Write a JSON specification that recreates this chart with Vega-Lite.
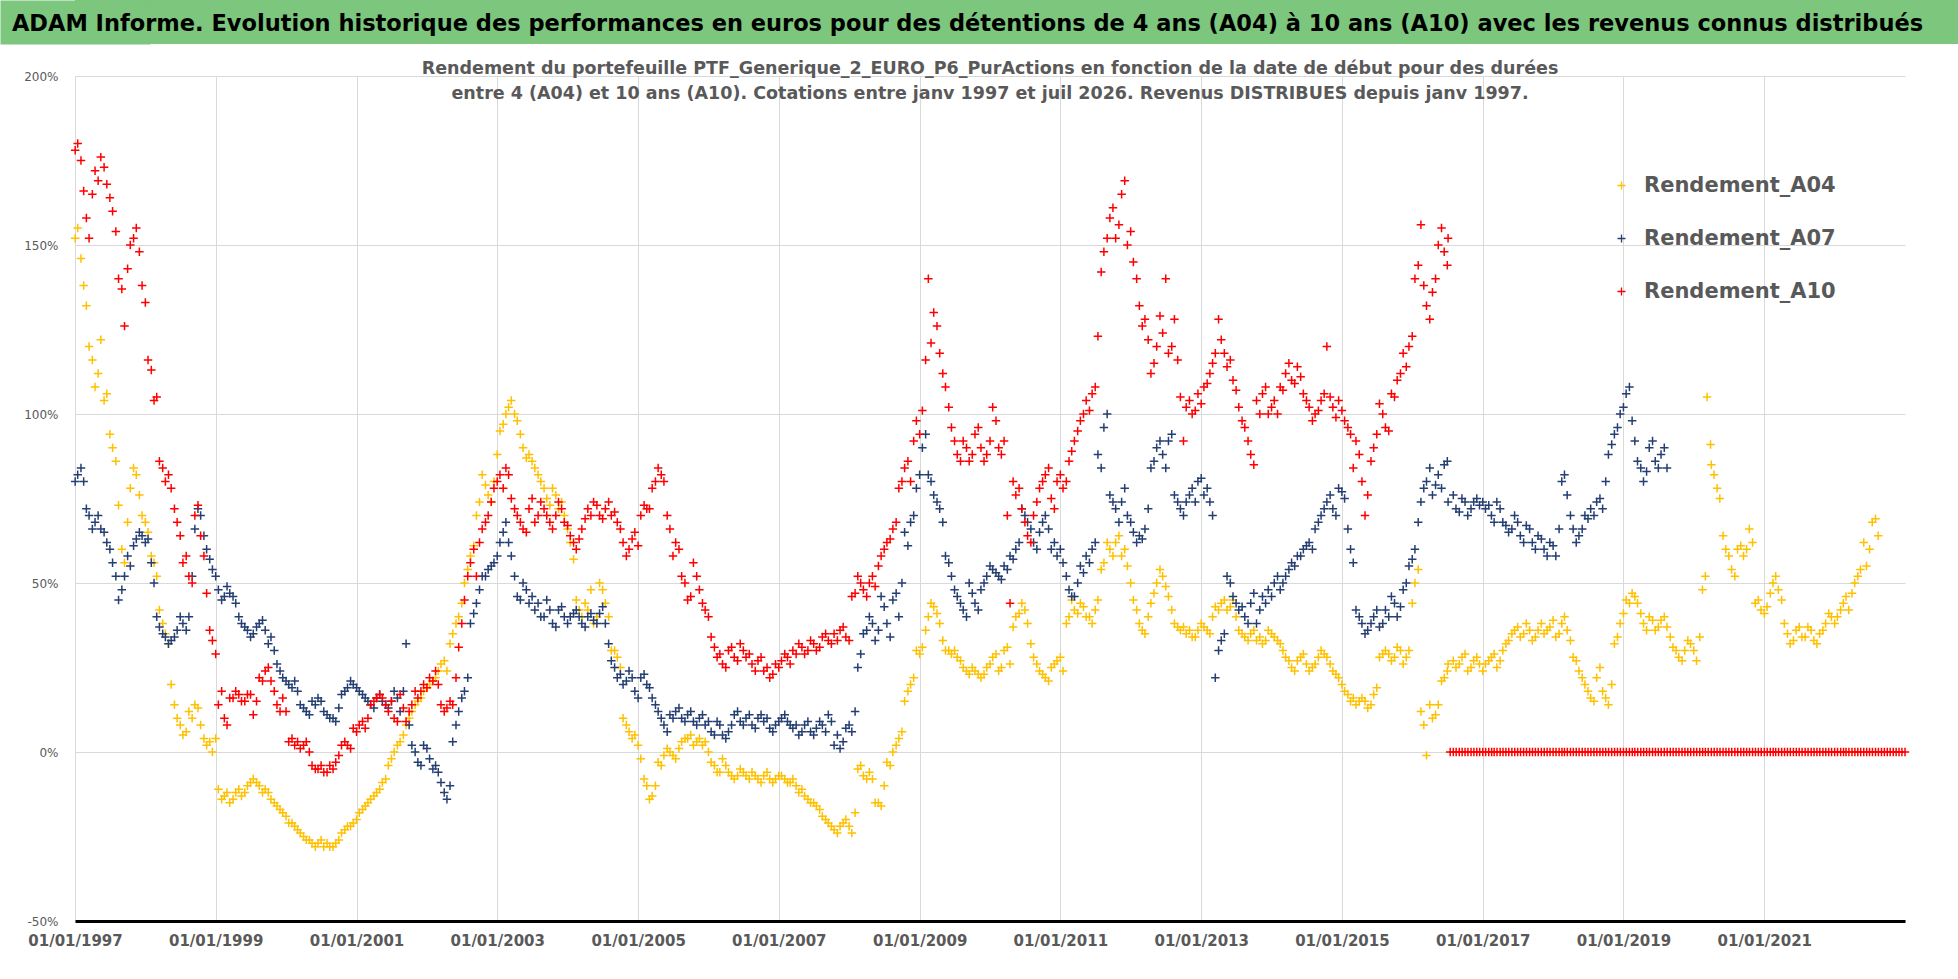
{
  "$schema": "https://vega.github.io/schema/vega-lite/v6.json",
  "padding": 0,
  "spacing": 15,
  "columns": 1,
  "background": "#ffffff",
  "config": {"font": "DejaVu Sans", "view": {"stroke": null}},
  "concat": [
    {
      "width": 1883,
      "height": 44,
      "view": {"fill": "#7dc67d", "stroke": null},
      "data": {"values": [{"t": "ADAM Informe. Evolution historique des performances en euros pour des détentions de 4 ans (A04) à 10 ans (A10) avec les revenus connus distribués"}]},
      "mark": {"type": "text", "font": "DejaVu Sans", "fontWeight": "bold", "fontSize": 22.5, "color": "#000000", "align": "center", "baseline": "middle", "dx": -49, "dy": 2},
      "encoding": {
        "text": {"field": "t"},
        "y": {
          "datum": 1,
          "type": "quantitative",
          "scale": {"domain": [0, 2]},
          "axis": {"title": null, "labels": false, "ticks": false, "grid": false, "domain": true, "domainWidth": 150, "domainColor": "#7dc67d", "domainCap": "butt", "zindex": 0}
        }
      }
    },
    {
      "width": 1830,
      "height": 845,
      "title": {
        "text": [
          "Rendement du portefeuille PTF_Generique_2_EURO_P6_PurActions  en fonction de la date de début pour des durées",
          "entre 4 (A04) et 10 ans (A10). Cotations entre janv 1997 et juil 2026. Revenus DISTRIBUES depuis janv 1997."
        ],
        "font": "DejaVu Sans",
        "fontWeight": "bold",
        "fontSize": 17.5,
        "color": "#595959",
        "lineHeight": 25,
        "anchor": "middle",
        "offset": -32
      },
      "data": {
        "values": [
          {"d":"1997-01-15","A04":155,"A07":82,"A10":180},
          {"d":"1997-02-15","A04":138,"A07":80,"A10":166},
          {"d":"1997-03-15","A04":120,"A07":70,"A10":152},
          {"d":"1997-04-15","A04":108,"A07":68,"A10":172},
          {"d":"1997-05-15","A04":122,"A07":66,"A10":176},
          {"d":"1997-06-15","A04":106,"A07":62,"A10":168},
          {"d":"1997-07-15","A04":90,"A07":56,"A10":160},
          {"d":"1997-08-15","A04":73,"A07":45,"A10":140},
          {"d":"1997-09-15","A04":56,"A07":52,"A10":126},
          {"d":"1997-10-15","A04":78,"A07":55,"A10":150},
          {"d":"1997-11-15","A04":82,"A07":63,"A10":155},
          {"d":"1997-12-15","A04":70,"A07":64,"A10":138},
          {"d":"1998-01-15","A04":65,"A07":63,"A10":116},
          {"d":"1998-02-15","A04":56,"A07":50,"A10":104},
          {"d":"1998-03-15","A04":42,"A07":37,"A10":86},
          {"d":"1998-04-15","A04":35,"A07":34,"A10":80},
          {"d":"1998-05-15","A04":20,"A07":33,"A10":78},
          {"d":"1998-06-15","A04":10,"A07":36,"A10":68},
          {"d":"1998-07-15","A04":5,"A07":38,"A10":56},
          {"d":"1998-08-15","A04":12,"A07":40,"A10":52},
          {"d":"1998-09-15","A04":14,"A07":66,"A10":70},
          {"d":"1998-10-15","A04":8,"A07":70,"A10":64},
          {"d":"1998-11-15","A04":2,"A07":60,"A10":47},
          {"d":"1998-12-15","A04":0,"A07":54,"A10":33},
          {"d":"1999-01-15","A04":-11,"A07":48,"A10":14},
          {"d":"1999-02-15","A04":-13,"A07":46,"A10":10},
          {"d":"1999-03-15","A04":-15,"A07":47,"A10":16},
          {"d":"1999-04-15","A04":-12,"A07":44,"A10":18},
          {"d":"1999-05-15","A04":-13,"A07":38,"A10":15},
          {"d":"1999-06-15","A04":-10,"A07":36,"A10":17},
          {"d":"1999-07-15","A04":-8,"A07":35,"A10":11},
          {"d":"1999-08-15","A04":-10,"A07":38,"A10":22},
          {"d":"1999-09-15","A04":-11,"A07":36,"A10":24},
          {"d":"1999-10-15","A04":-14,"A07":34,"A10":21},
          {"d":"1999-11-15","A04":-16,"A07":26,"A10":14},
          {"d":"1999-12-15","A04":-18,"A07":22,"A10":16},
          {"d":"2000-01-15","A04":-21,"A07":20,"A10":3},
          {"d":"2000-02-15","A04":-22,"A07":21,"A10":2},
          {"d":"2000-03-15","A04":-24,"A07":14,"A10":1},
          {"d":"2000-04-15","A04":-26,"A07":12,"A10":3},
          {"d":"2000-05-15","A04":-27,"A07":15,"A10":-4},
          {"d":"2000-06-15","A04":-27,"A07":16,"A10":-5},
          {"d":"2000-07-15","A04":-28,"A07":12,"A10":-6},
          {"d":"2000-08-15","A04":-28,"A07":10,"A10":-4},
          {"d":"2000-09-15","A04":-27,"A07":9,"A10":-3},
          {"d":"2000-10-15","A04":-24,"A07":17,"A10":2},
          {"d":"2000-11-15","A04":-22,"A07":19,"A10":2},
          {"d":"2000-12-15","A04":-21,"A07":20,"A10":7},
          {"d":"2001-01-15","A04":-18,"A07":18,"A10":8},
          {"d":"2001-02-15","A04":-16,"A07":16,"A10":7},
          {"d":"2001-03-15","A04":-14,"A07":14,"A10":14},
          {"d":"2001-04-15","A04":-12,"A07":16,"A10":16},
          {"d":"2001-05-15","A04":-9,"A07":15,"A10":16},
          {"d":"2001-06-15","A04":-4,"A07":13,"A10":12},
          {"d":"2001-07-15","A04":0,"A07":18,"A10":10},
          {"d":"2001-08-15","A04":3,"A07":12,"A10":17},
          {"d":"2001-09-15","A04":8,"A07":32,"A10":9},
          {"d":"2001-10-15","A04":12,"A07":2,"A10":14},
          {"d":"2001-11-15","A04":15,"A07":-3,"A10":16},
          {"d":"2001-12-15","A04":18,"A07":2,"A10":20},
          {"d":"2002-01-15","A04":20,"A07":-2,"A10":22},
          {"d":"2002-02-15","A04":22,"A07":-4,"A10":24},
          {"d":"2002-03-15","A04":26,"A07":-9,"A10":14},
          {"d":"2002-04-15","A04":24,"A07":-14,"A10":13},
          {"d":"2002-05-15","A04":35,"A07":3,"A10":14},
          {"d":"2002-06-15","A04":40,"A07":12,"A10":31},
          {"d":"2002-07-15","A04":50,"A07":18,"A10":45},
          {"d":"2002-08-15","A04":58,"A07":38,"A10":56},
          {"d":"2002-09-15","A04":70,"A07":44,"A10":52},
          {"d":"2002-10-15","A04":82,"A07":52,"A10":66},
          {"d":"2002-11-15","A04":76,"A07":54,"A10":70},
          {"d":"2002-12-15","A04":80,"A07":56,"A10":78},
          {"d":"2003-01-15","A04":95,"A07":62,"A10":82},
          {"d":"2003-02-15","A04":100,"A07":68,"A10":84},
          {"d":"2003-03-15","A04":104,"A07":58,"A10":75},
          {"d":"2003-04-15","A04":98,"A07":46,"A10":70},
          {"d":"2003-05-15","A04":90,"A07":50,"A10":66},
          {"d":"2003-06-15","A04":88,"A07":44,"A10":72},
          {"d":"2003-07-15","A04":84,"A07":42,"A10":68},
          {"d":"2003-08-15","A04":80,"A07":40,"A10":74},
          {"d":"2003-09-15","A04":75,"A07":45,"A10":70},
          {"d":"2003-10-15","A04":78,"A07":38,"A10":66},
          {"d":"2003-11-15","A04":72,"A07":42,"A10":74},
          {"d":"2003-12-15","A04":70,"A07":40,"A10":68},
          {"d":"2004-01-15","A04":62,"A07":40,"A10":64},
          {"d":"2004-02-15","A04":45,"A07":42,"A10":60},
          {"d":"2004-03-15","A04":40,"A07":38,"A10":66},
          {"d":"2004-04-15","A04":42,"A07":40,"A10":72},
          {"d":"2004-05-15","A04":38,"A07":39,"A10":74},
          {"d":"2004-06-15","A04":50,"A07":41,"A10":70},
          {"d":"2004-07-15","A04":44,"A07":38,"A10":72},
          {"d":"2004-08-15","A04":30,"A07":27,"A10":70},
          {"d":"2004-09-15","A04":28,"A07":22,"A10":68},
          {"d":"2004-10-15","A04":10,"A07":20,"A10":62},
          {"d":"2004-11-15","A04":6,"A07":24,"A10":60},
          {"d":"2004-12-15","A04":5,"A07":18,"A10":65},
          {"d":"2005-01-15","A04":-2,"A07":22,"A10":70},
          {"d":"2005-02-15","A04":-10,"A07":20,"A10":72},
          {"d":"2005-03-15","A04":-13,"A07":16,"A10":78},
          {"d":"2005-04-15","A04":-3,"A07":12,"A10":84},
          {"d":"2005-05-15","A04":-1,"A07":8,"A10":80},
          {"d":"2005-06-15","A04":0,"A07":11,"A10":66},
          {"d":"2005-07-15","A04":-2,"A07":12,"A10":62},
          {"d":"2005-08-15","A04":3,"A07":10,"A10":52},
          {"d":"2005-09-15","A04":4,"A07":11,"A10":45},
          {"d":"2005-10-15","A04":2,"A07":9,"A10":56},
          {"d":"2005-11-15","A04":4,"A07":10,"A10":48},
          {"d":"2005-12-15","A04":3,"A07":8,"A10":42},
          {"d":"2006-01-15","A04":-3,"A07":6,"A10":34},
          {"d":"2006-02-15","A04":-6,"A07":9,"A10":28},
          {"d":"2006-03-15","A04":-2,"A07":5,"A10":26},
          {"d":"2006-04-15","A04":-6,"A07":6,"A10":30},
          {"d":"2006-05-15","A04":-8,"A07":11,"A10":28},
          {"d":"2006-06-15","A04":-5,"A07":9,"A10":32},
          {"d":"2006-07-15","A04":-7,"A07":10,"A10":28},
          {"d":"2006-08-15","A04":-6,"A07":8,"A10":26},
          {"d":"2006-09-15","A04":-8,"A07":10,"A10":27},
          {"d":"2006-10-15","A04":-7,"A07":9,"A10":24},
          {"d":"2006-11-15","A04":-8,"A07":7,"A10":22},
          {"d":"2006-12-15","A04":-8,"A07":8,"A10":26},
          {"d":"2007-01-15","A04":-7,"A07":10,"A10":27},
          {"d":"2007-02-15","A04":-9,"A07":9,"A10":28},
          {"d":"2007-03-15","A04":-8,"A07":7,"A10":30},
          {"d":"2007-04-15","A04":-12,"A07":5,"A10":32},
          {"d":"2007-05-15","A04":-13,"A07":8,"A10":29},
          {"d":"2007-06-15","A04":-15,"A07":6,"A10":33},
          {"d":"2007-07-15","A04":-16,"A07":7,"A10":30},
          {"d":"2007-08-15","A04":-19,"A07":8,"A10":34},
          {"d":"2007-09-15","A04":-21,"A07":11,"A10":33},
          {"d":"2007-10-15","A04":-23,"A07":2,"A10":35},
          {"d":"2007-11-15","A04":-22,"A07":1,"A10":36},
          {"d":"2007-12-15","A04":-20,"A07":7,"A10":34},
          {"d":"2008-01-15","A04":-24,"A07":6,"A10":46},
          {"d":"2008-02-15","A04":-5,"A07":25,"A10":52},
          {"d":"2008-03-15","A04":-7,"A07":35,"A10":48},
          {"d":"2008-04-15","A04":-6,"A07":40,"A10":50},
          {"d":"2008-05-15","A04":-15,"A07":33,"A10":49},
          {"d":"2008-06-15","A04":-16,"A07":46,"A10":58},
          {"d":"2008-07-15","A04":-3,"A07":38,"A10":62},
          {"d":"2008-08-15","A04":0,"A07":45,"A10":66},
          {"d":"2008-09-15","A04":4,"A07":40,"A10":78},
          {"d":"2008-10-15","A04":15,"A07":65,"A10":84},
          {"d":"2008-11-15","A04":20,"A07":68,"A10":80},
          {"d":"2008-12-15","A04":30,"A07":78,"A10":98},
          {"d":"2009-01-15","A04":31,"A07":90,"A10":101},
          {"d":"2009-02-15","A04":40,"A07":82,"A10":140},
          {"d":"2009-03-15","A04":43,"A07":76,"A10":130},
          {"d":"2009-04-15","A04":38,"A07":72,"A10":118},
          {"d":"2009-05-15","A04":30,"A07":58,"A10":108},
          {"d":"2009-06-15","A04":29,"A07":52,"A10":96},
          {"d":"2009-07-15","A04":28,"A07":46,"A10":88},
          {"d":"2009-08-15","A04":25,"A07":42,"A10":92},
          {"d":"2009-09-15","A04":23,"A07":50,"A10":86},
          {"d":"2009-10-15","A04":24,"A07":44,"A10":94},
          {"d":"2009-11-15","A04":22,"A07":48,"A10":90},
          {"d":"2009-12-15","A04":25,"A07":52,"A10":88},
          {"d":"2010-01-15","A04":28,"A07":54,"A10":102},
          {"d":"2010-02-15","A04":24,"A07":52,"A10":90},
          {"d":"2010-03-15","A04":30,"A07":55,"A10":92},
          {"d":"2010-04-15","A04":26,"A07":58,"A10":44},
          {"d":"2010-05-15","A04":40,"A07":60,"A10":76},
          {"d":"2010-06-15","A04":44,"A07":72,"A10":72},
          {"d":"2010-07-15","A04":38,"A07":68,"A10":64},
          {"d":"2010-08-15","A04":28,"A07":62,"A10":70},
          {"d":"2010-09-15","A04":24,"A07":65,"A10":78},
          {"d":"2010-10-15","A04":22,"A07":70,"A10":82},
          {"d":"2010-11-15","A04":25,"A07":60,"A10":75},
          {"d":"2010-12-15","A04":27,"A07":58,"A10":80},
          {"d":"2011-01-15","A04":24,"A07":56,"A10":78},
          {"d":"2011-02-15","A04":40,"A07":48,"A10":86},
          {"d":"2011-03-15","A04":42,"A07":46,"A10":92},
          {"d":"2011-04-15","A04":44,"A07":55,"A10":98},
          {"d":"2011-05-15","A04":40,"A07":58,"A10":104},
          {"d":"2011-06-15","A04":38,"A07":60,"A10":106},
          {"d":"2011-07-15","A04":45,"A07":88,"A10":123},
          {"d":"2011-08-15","A04":56,"A07":96,"A10":148},
          {"d":"2011-09-15","A04":60,"A07":76,"A10":158},
          {"d":"2011-10-15","A04":62,"A07":72,"A10":152},
          {"d":"2011-11-15","A04":58,"A07":74,"A10":165},
          {"d":"2011-12-15","A04":55,"A07":70,"A10":150},
          {"d":"2012-01-15","A04":45,"A07":65,"A10":145},
          {"d":"2012-02-15","A04":38,"A07":64,"A10":132},
          {"d":"2012-03-15","A04":35,"A07":66,"A10":128},
          {"d":"2012-04-15","A04":44,"A07":84,"A10":112},
          {"d":"2012-05-15","A04":50,"A07":90,"A10":120},
          {"d":"2012-06-15","A04":52,"A07":88,"A10":124},
          {"d":"2012-07-15","A04":46,"A07":92,"A10":118},
          {"d":"2012-08-15","A04":38,"A07":76,"A10":128},
          {"d":"2012-09-15","A04":36,"A07":72,"A10":105},
          {"d":"2012-10-15","A04":35,"A07":74,"A10":102},
          {"d":"2012-11-15","A04":34,"A07":78,"A10":100},
          {"d":"2012-12-15","A04":36,"A07":80,"A10":106},
          {"d":"2013-01-15","A04":37,"A07":76,"A10":108},
          {"d":"2013-02-15","A04":35,"A07":74,"A10":112},
          {"d":"2013-03-15","A04":43,"A07":22,"A10":118},
          {"d":"2013-04-15","A04":44,"A07":33,"A10":122},
          {"d":"2013-05-15","A04":42,"A07":52,"A10":114},
          {"d":"2013-06-15","A04":45,"A07":46,"A10":110},
          {"d":"2013-07-15","A04":36,"A07":42,"A10":102},
          {"d":"2013-08-15","A04":34,"A07":40,"A10":96},
          {"d":"2013-09-15","A04":35,"A07":44,"A10":88},
          {"d":"2013-10-15","A04":33,"A07":38,"A10":104},
          {"d":"2013-11-15","A04":32,"A07":46,"A10":106},
          {"d":"2013-12-15","A04":36,"A07":48,"A10":100},
          {"d":"2014-01-15","A04":34,"A07":50,"A10":104},
          {"d":"2014-02-15","A04":32,"A07":48,"A10":108},
          {"d":"2014-03-15","A04":28,"A07":52,"A10":112},
          {"d":"2014-04-15","A04":25,"A07":56,"A10":110},
          {"d":"2014-05-15","A04":27,"A07":58,"A10":114},
          {"d":"2014-06-15","A04":29,"A07":60,"A10":106},
          {"d":"2014-07-15","A04":24,"A07":62,"A10":102},
          {"d":"2014-08-15","A04":26,"A07":66,"A10":100},
          {"d":"2014-09-15","A04":30,"A07":70,"A10":104},
          {"d":"2014-10-15","A04":28,"A07":74,"A10":120},
          {"d":"2014-11-15","A04":24,"A07":72,"A10":102},
          {"d":"2014-12-15","A04":22,"A07":78,"A10":104},
          {"d":"2015-01-15","A04":18,"A07":75,"A10":98},
          {"d":"2015-02-15","A04":15,"A07":60,"A10":94},
          {"d":"2015-03-15","A04":14,"A07":42,"A10":92},
          {"d":"2015-04-15","A04":16,"A07":38,"A10":80},
          {"d":"2015-05-15","A04":13,"A07":36,"A10":76},
          {"d":"2015-06-15","A04":17,"A07":40,"A10":90},
          {"d":"2015-07-15","A04":28,"A07":37,"A10":103},
          {"d":"2015-08-15","A04":30,"A07":42,"A10":96},
          {"d":"2015-09-15","A04":27,"A07":46,"A10":106},
          {"d":"2015-10-15","A04":31,"A07":40,"A10":110},
          {"d":"2015-11-15","A04":26,"A07":48,"A10":118},
          {"d":"2015-12-15","A04":30,"A07":55,"A10":120},
          {"d":"2016-01-15","A04":50,"A07":60,"A10":140},
          {"d":"2016-02-15","A04":12,"A07":74,"A10":156},
          {"d":"2016-03-15","A04":-1,"A07":80,"A10":132},
          {"d":"2016-04-15","A04":10,"A07":76,"A10":136},
          {"d":"2016-05-15","A04":14,"A07":82,"A10":150},
          {"d":"2016-06-15","A04":22,"A07":85,"A10":148},
          {"d":"2016-07-05","A04":26,"A07":74,"A10":152},
          {"d":"2016-08-15","A04":25,"A07":72},
          {"d":"2016-09-15","A04":28,"A07":75},
          {"d":"2016-10-15","A04":24,"A07":70},
          {"d":"2016-11-15","A04":27,"A07":74},
          {"d":"2016-12-15","A04":26,"A07":73},
          {"d":"2017-01-15","A04":26,"A07":72},
          {"d":"2017-02-15","A04":28,"A07":70},
          {"d":"2017-03-15","A04":25,"A07":74},
          {"d":"2017-04-15","A04":30,"A07":68},
          {"d":"2017-05-15","A04":33,"A07":65},
          {"d":"2017-06-15","A04":36,"A07":70},
          {"d":"2017-07-15","A04":34,"A07":64},
          {"d":"2017-08-15","A04":38,"A07":67},
          {"d":"2017-09-15","A04":33,"A07":62},
          {"d":"2017-10-15","A04":36,"A07":64},
          {"d":"2017-11-15","A04":35,"A07":60},
          {"d":"2017-12-15","A04":37,"A07":62},
          {"d":"2018-01-15","A04":34,"A07":58},
          {"d":"2018-02-15","A04":38,"A07":80},
          {"d":"2018-03-15","A04":36,"A07":76},
          {"d":"2018-04-15","A04":28,"A07":66},
          {"d":"2018-05-15","A04":24,"A07":64},
          {"d":"2018-06-15","A04":20,"A07":70},
          {"d":"2018-07-15","A04":16,"A07":72},
          {"d":"2018-08-15","A04":22,"A07":74},
          {"d":"2018-09-15","A04":18,"A07":72},
          {"d":"2018-10-15","A04":14,"A07":88},
          {"d":"2018-11-15","A04":32,"A07":94},
          {"d":"2018-12-15","A04":38,"A07":100},
          {"d":"2019-01-15","A04":45,"A07":106},
          {"d":"2019-02-15","A04":47,"A07":98},
          {"d":"2019-03-15","A04":44,"A07":86},
          {"d":"2019-04-15","A04":38,"A07":80},
          {"d":"2019-05-15","A04":40,"A07":90},
          {"d":"2019-06-15","A04":36,"A07":86},
          {"d":"2019-07-15","A04":39,"A07":88},
          {"d":"2019-08-15","A04":37,"A07":84},
          {"d":"2019-09-15","A04":31},
          {"d":"2019-10-15","A04":28},
          {"d":"2019-11-15","A04":30},
          {"d":"2019-12-15","A04":32},
          {"d":"2020-01-15","A04":27},
          {"d":"2020-02-15","A04":48},
          {"d":"2020-03-10","A04":105},
          {"d":"2020-03-28","A04":91},
          {"d":"2020-04-15","A04":82},
          {"d":"2020-05-15","A04":75},
          {"d":"2020-06-15","A04":60},
          {"d":"2020-07-15","A04":54},
          {"d":"2020-08-15","A04":60},
          {"d":"2020-09-15","A04":58},
          {"d":"2020-10-15","A04":66},
          {"d":"2020-11-15","A04":44},
          {"d":"2020-12-15","A04":42},
          {"d":"2021-01-15","A04":43},
          {"d":"2021-02-15","A04":50},
          {"d":"2021-03-15","A04":48},
          {"d":"2021-04-15","A04":38},
          {"d":"2021-05-15","A04":32},
          {"d":"2021-06-15","A04":36},
          {"d":"2021-07-15","A04":34},
          {"d":"2021-08-15","A04":37},
          {"d":"2021-09-15","A04":33},
          {"d":"2021-10-15","A04":35},
          {"d":"2021-11-15","A04":38},
          {"d":"2021-12-15","A04":40},
          {"d":"2022-01-15","A04":40},
          {"d":"2022-02-15","A04":44},
          {"d":"2022-03-15","A04":42},
          {"d":"2022-04-15","A04":50},
          {"d":"2022-05-15","A04":54},
          {"d":"2022-06-15","A04":55},
          {"d":"2022-07-15","A04":68},
          {"d":"2022-08-15","A04":64},
          {"d":"1997-01-02","A04":152,"A07":80,"A10":178},
          {"d":"1997-02-01","A04":146,"A07":84,"A10":175},
          {"d":"1997-03-01","A04":132,"A07":72,"A10":158},
          {"d":"1997-04-01","A04":116,"A07":66,"A10":165},
          {"d":"1997-05-01","A04":112,"A07":70,"A10":169},
          {"d":"1997-06-01","A04":104,"A07":65,"A10":173},
          {"d":"1997-07-01","A04":94,"A07":60,"A10":164},
          {"d":"1997-08-01","A04":86,"A07":52,"A10":154},
          {"d":"1997-09-01","A04":60,"A07":48,"A10":137},
          {"d":"1997-10-01","A04":68,"A07":58,"A10":143},
          {"d":"1997-11-01","A04":84,"A07":61,"A10":152},
          {"d":"1997-12-01","A04":76,"A07":65,"A10":148},
          {"d":"1998-01-01","A04":68,"A07":62,"A10":133},
          {"d":"1998-02-01","A04":58,"A07":56,"A10":113},
          {"d":"1998-03-01","A04":52,"A07":40,"A10":105},
          {"d":"1998-04-01","A04":38,"A07":35,"A10":84},
          {"d":"1998-05-01","A04":32,"A07":32,"A10":82},
          {"d":"1998-06-01","A04":14,"A07":34,"A10":72},
          {"d":"1998-07-01","A04":8,"A07":40,"A10":64},
          {"d":"1998-08-01","A04":6,"A07":36,"A10":58},
          {"d":"1998-09-01","A04":10,"A07":52,"A10":50},
          {"d":"1998-10-01","A04":13,"A07":72,"A10":73},
          {"d":"1998-11-01","A04":4,"A07":64,"A10":58},
          {"d":"1998-12-01","A04":3,"A07":57,"A10":36},
          {"d":"1999-01-01","A04":4,"A07":52,"A10":29},
          {"d":"1999-02-01","A04":-14,"A07":45,"A10":18},
          {"d":"1999-03-01","A04":-12,"A07":49,"A10":8},
          {"d":"1999-04-01","A04":-14,"A07":46,"A10":16},
          {"d":"1999-05-01","A04":-11,"A07":40,"A10":17},
          {"d":"1999-06-01","A04":-12,"A07":37,"A10":15},
          {"d":"1999-07-01","A04":-9,"A07":34,"A10":17},
          {"d":"1999-08-01","A04":-9,"A07":37,"A10":15},
          {"d":"1999-09-01","A04":-12,"A07":39,"A10":21},
          {"d":"1999-10-01","A04":-12,"A07":32,"A10":25},
          {"d":"1999-11-01","A04":-15,"A07":30,"A10":18},
          {"d":"1999-12-01","A04":-17,"A07":24,"A10":12},
          {"d":"2000-01-01","A04":-19,"A07":21,"A10":12},
          {"d":"2000-02-01","A04":-21,"A07":19,"A10":4},
          {"d":"2000-03-01","A04":-23,"A07":18,"A10":3},
          {"d":"2000-04-01","A04":-25,"A07":13,"A10":2},
          {"d":"2000-05-01","A04":-26,"A07":11,"A10":0},
          {"d":"2000-06-01","A04":-28,"A07":14,"A10":-5},
          {"d":"2000-07-01","A04":-26,"A07":15,"A10":-4},
          {"d":"2000-08-01","A04":-27,"A07":11,"A10":-6},
          {"d":"2000-09-01","A04":-28,"A07":10,"A10":-5},
          {"d":"2000-10-01","A04":-26,"A07":13,"A10":-1},
          {"d":"2000-11-01","A04":-23,"A07":18,"A10":3},
          {"d":"2000-12-01","A04":-22,"A07":21,"A10":1},
          {"d":"2001-01-01","A04":-20,"A07":19,"A10":6},
          {"d":"2001-02-01","A04":-17,"A07":17,"A10":9},
          {"d":"2001-03-01","A04":-15,"A07":15,"A10":10},
          {"d":"2001-04-01","A04":-13,"A07":13,"A10":15},
          {"d":"2001-05-01","A04":-11,"A07":17,"A10":17},
          {"d":"2001-06-01","A04":-8,"A07":14,"A10":14},
          {"d":"2001-07-01","A04":-2,"A07":15,"A10":15},
          {"d":"2001-08-01","A04":2,"A07":16,"A10":9},
          {"d":"2001-09-01","A04":5,"A07":18,"A10":13},
          {"d":"2001-10-01","A04":10,"A07":8,"A10":12},
          {"d":"2001-11-01","A04":14,"A07":0,"A10":18},
          {"d":"2001-12-01","A04":16,"A07":-4,"A10":18},
          {"d":"2002-01-01","A04":19,"A07":1,"A10":19},
          {"d":"2002-02-01","A04":21,"A07":-5,"A10":21},
          {"d":"2002-03-01","A04":24,"A07":-6,"A10":20},
          {"d":"2002-04-01","A04":27,"A07":-12,"A10":12},
          {"d":"2002-05-01","A04":32,"A07":-10,"A10":15},
          {"d":"2002-06-01","A04":38,"A07":8,"A10":22},
          {"d":"2002-07-01","A04":44,"A07":16,"A10":38},
          {"d":"2002-08-01","A04":54,"A07":22,"A10":52},
          {"d":"2002-09-01","A04":61,"A07":41,"A10":60},
          {"d":"2002-10-01","A04":74,"A07":48,"A10":62},
          {"d":"2002-11-01","A04":79,"A07":52,"A10":68},
          {"d":"2002-12-01","A04":74,"A07":55,"A10":74},
          {"d":"2003-01-01","A04":88,"A07":58,"A10":80},
          {"d":"2003-02-01","A04":97,"A07":65,"A10":78},
          {"d":"2003-03-01","A04":102,"A07":62,"A10":82},
          {"d":"2003-04-01","A04":100,"A07":52,"A10":72},
          {"d":"2003-05-01","A04":94,"A07":45,"A10":68},
          {"d":"2003-06-01","A04":87,"A07":48,"A10":65},
          {"d":"2003-07-01","A04":86,"A07":46,"A10":75},
          {"d":"2003-08-01","A04":82,"A07":44,"A10":70},
          {"d":"2003-09-01","A04":78,"A07":40,"A10":72},
          {"d":"2003-10-01","A04":73,"A07":42,"A10":68},
          {"d":"2003-11-01","A04":76,"A07":37,"A10":70},
          {"d":"2003-12-01","A04":74,"A07":43,"A10":72},
          {"d":"2004-01-01","A04":66,"A07":38,"A10":67},
          {"d":"2004-02-01","A04":57,"A07":41,"A10":62},
          {"d":"2004-03-01","A04":42,"A07":40,"A10":63},
          {"d":"2004-04-01","A04":44,"A07":37,"A10":69},
          {"d":"2004-05-01","A04":48,"A07":41,"A10":70},
          {"d":"2004-06-01","A04":40,"A07":38,"A10":73},
          {"d":"2004-07-01","A04":48,"A07":43,"A10":69},
          {"d":"2004-08-01","A04":40,"A07":32,"A10":74},
          {"d":"2004-09-01","A04":30,"A07":25,"A10":71},
          {"d":"2004-10-01","A04":25,"A07":23,"A10":66},
          {"d":"2004-11-01","A04":8,"A07":21,"A10":58},
          {"d":"2004-12-01","A04":4,"A07":22,"A10":63},
          {"d":"2005-01-01","A04":2,"A07":16,"A10":61},
          {"d":"2005-02-01","A04":-8,"A07":23,"A10":73},
          {"d":"2005-03-01","A04":-14,"A07":19,"A10":72},
          {"d":"2005-04-01","A04":-10,"A07":14,"A10":80},
          {"d":"2005-05-01","A04":-4,"A07":10,"A10":82},
          {"d":"2005-06-01","A04":1,"A07":6,"A10":70},
          {"d":"2005-07-01","A04":-1,"A07":10,"A10":58},
          {"d":"2005-08-01","A04":1,"A07":13,"A10":60},
          {"d":"2005-09-01","A04":4,"A07":9,"A10":50},
          {"d":"2005-10-01","A04":5,"A07":12,"A10":46},
          {"d":"2005-11-01","A04":3,"A07":8,"A10":52},
          {"d":"2005-12-01","A04":2,"A07":11,"A10":44},
          {"d":"2006-01-01","A04":0,"A07":9,"A10":40},
          {"d":"2006-02-01","A04":-4,"A07":5,"A10":31},
          {"d":"2006-03-01","A04":-6,"A07":8,"A10":29},
          {"d":"2006-04-01","A04":-4,"A07":4,"A10":25},
          {"d":"2006-05-01","A04":-7,"A07":8,"A10":31},
          {"d":"2006-06-01","A04":-7,"A07":12,"A10":27},
          {"d":"2006-07-01","A04":-6,"A07":8,"A10":30},
          {"d":"2006-08-01","A04":-8,"A07":11,"A10":29},
          {"d":"2006-09-01","A04":-7,"A07":7,"A10":24},
          {"d":"2006-10-01","A04":-9,"A07":11,"A10":28},
          {"d":"2006-11-01","A04":-6,"A07":10,"A10":25},
          {"d":"2006-12-01","A04":-9,"A07":6,"A10":23},
          {"d":"2007-01-01","A04":-7,"A07":9,"A10":25},
          {"d":"2007-02-01","A04":-8,"A07":11,"A10":29},
          {"d":"2007-03-01","A04":-9,"A07":8,"A10":26},
          {"d":"2007-04-01","A04":-10,"A07":8,"A10":29},
          {"d":"2007-05-01","A04":-11,"A07":6,"A10":31},
          {"d":"2007-06-01","A04":-14,"A07":9,"A10":30},
          {"d":"2007-07-01","A04":-15,"A07":5,"A10":32},
          {"d":"2007-08-01","A04":-17,"A07":9,"A10":31},
          {"d":"2007-09-01","A04":-20,"A07":6,"A10":35},
          {"d":"2007-10-01","A04":-22,"A07":9,"A10":32},
          {"d":"2007-11-01","A04":-24,"A07":5,"A10":33},
          {"d":"2007-12-01","A04":-21,"A07":3,"A10":37},
          {"d":"2008-01-01","A04":-22,"A07":8,"A10":33},
          {"d":"2008-02-01","A04":-18,"A07":12,"A10":47},
          {"d":"2008-03-01","A04":-4,"A07":29,"A10":50},
          {"d":"2008-04-01","A04":-8,"A07":36,"A10":46},
          {"d":"2008-05-01","A04":-8,"A07":38,"A10":52},
          {"d":"2008-06-01","A04":-15,"A07":36,"A10":55},
          {"d":"2008-07-01","A04":-10,"A07":43,"A10":60},
          {"d":"2008-08-01","A04":-4,"A07":34,"A10":63},
          {"d":"2008-09-01","A04":2,"A07":47,"A10":68},
          {"d":"2008-10-01","A04":6,"A07":50,"A10":80},
          {"d":"2008-11-01","A04":18,"A07":61,"A10":86},
          {"d":"2008-12-01","A04":22,"A07":70,"A10":92},
          {"d":"2009-01-01","A04":29,"A07":82,"A10":94},
          {"d":"2009-02-01","A04":36,"A07":94,"A10":116},
          {"d":"2009-03-01","A04":44,"A07":80,"A10":121},
          {"d":"2009-04-01","A04":41,"A07":74,"A10":126},
          {"d":"2009-05-01","A04":33,"A07":68,"A10":112},
          {"d":"2009-06-01","A04":30,"A07":56,"A10":102},
          {"d":"2009-07-01","A04":30,"A07":48,"A10":92},
          {"d":"2009-08-01","A04":27,"A07":44,"A10":86},
          {"d":"2009-09-01","A04":24,"A07":40,"A10":90},
          {"d":"2009-10-01","A04":25,"A07":47,"A10":88},
          {"d":"2009-11-01","A04":23,"A07":42,"A10":96},
          {"d":"2009-12-01","A04":23,"A07":50,"A10":86},
          {"d":"2010-01-01","A04":26,"A07":55,"A10":92},
          {"d":"2010-02-01","A04":29,"A07":53,"A10":98},
          {"d":"2010-03-01","A04":25,"A07":51,"A10":88},
          {"d":"2010-04-01","A04":31,"A07":54,"A10":70},
          {"d":"2010-05-01","A04":37,"A07":57,"A10":80},
          {"d":"2010-06-01","A04":41,"A07":62,"A10":78},
          {"d":"2010-07-01","A04":42,"A07":70,"A10":68},
          {"d":"2010-08-01","A04":32,"A07":66,"A10":62},
          {"d":"2010-09-01","A04":26,"A07":60,"A10":74},
          {"d":"2010-10-01","A04":23,"A07":68,"A10":80},
          {"d":"2010-11-01","A04":21,"A07":66,"A10":84},
          {"d":"2010-12-01","A04":26,"A07":62,"A10":72},
          {"d":"2011-01-01","A04":28,"A07":60,"A10":82},
          {"d":"2011-02-01","A04":38,"A07":52,"A10":80},
          {"d":"2011-03-01","A04":45,"A07":46,"A10":89},
          {"d":"2011-04-01","A04":41,"A07":50,"A10":95},
          {"d":"2011-05-01","A04":43,"A07":53,"A10":100},
          {"d":"2011-06-01","A04":40,"A07":56,"A10":101},
          {"d":"2011-07-01","A04":42,"A07":62,"A10":108},
          {"d":"2011-08-01","A04":54,"A07":84,"A10":142},
          {"d":"2011-09-01","A04":62,"A07":100,"A10":152},
          {"d":"2011-10-01","A04":58,"A07":74,"A10":161},
          {"d":"2011-11-01","A04":64,"A07":68,"A10":156},
          {"d":"2011-12-01","A04":60,"A07":78,"A10":169},
          {"d":"2012-01-01","A04":50,"A07":68,"A10":154},
          {"d":"2012-02-01","A04":42,"A07":62,"A10":140},
          {"d":"2012-03-01","A04":36,"A07":63,"A10":126},
          {"d":"2012-04-01","A04":40,"A07":72,"A10":122},
          {"d":"2012-05-01","A04":47,"A07":86,"A10":115},
          {"d":"2012-06-01","A04":54,"A07":92,"A10":129},
          {"d":"2012-07-01","A04":49,"A07":84,"A10":140},
          {"d":"2012-08-01","A04":42,"A07":94,"A10":120},
          {"d":"2012-09-01","A04":37,"A07":74,"A10":116},
          {"d":"2012-10-01","A04":37,"A07":70,"A10":92},
          {"d":"2012-11-01","A04":36,"A07":76,"A10":104},
          {"d":"2012-12-01","A04":34,"A07":74,"A10":101},
          {"d":"2013-01-01","A04":38,"A07":81,"A10":103},
          {"d":"2013-02-01","A04":36,"A07":78,"A10":109},
          {"d":"2013-03-01","A04":40,"A07":70,"A10":115},
          {"d":"2013-04-01","A04":42,"A07":30,"A10":128},
          {"d":"2013-05-01","A04":45,"A07":35,"A10":118},
          {"d":"2013-06-01","A04":43,"A07":50,"A10":116},
          {"d":"2013-07-01","A04":40,"A07":44,"A10":107},
          {"d":"2013-08-01","A04":35,"A07":43,"A10":98},
          {"d":"2013-09-01","A04":33,"A07":38,"A10":92},
          {"d":"2013-10-01","A04":36,"A07":47,"A10":85},
          {"d":"2013-11-01","A04":34,"A07":42,"A10":100},
          {"d":"2013-12-01","A04":33,"A07":44,"A10":108},
          {"d":"2014-01-01","A04":35,"A07":46,"A10":102},
          {"d":"2014-02-01","A04":33,"A07":52,"A10":100},
          {"d":"2014-03-01","A04":30,"A07":50,"A10":107},
          {"d":"2014-04-01","A04":27,"A07":54,"A10":115},
          {"d":"2014-05-01","A04":24,"A07":55,"A10":109},
          {"d":"2014-06-01","A04":28,"A07":58,"A10":111},
          {"d":"2014-07-01","A04":26,"A07":61,"A10":104},
          {"d":"2014-08-01","A04":25,"A07":60,"A10":98},
          {"d":"2014-09-01","A04":28,"A07":68,"A10":101},
          {"d":"2014-10-01","A04":29,"A07":72,"A10":106},
          {"d":"2014-11-01","A04":26,"A07":76,"A10":105},
          {"d":"2014-12-01","A04":23,"A07":70,"A10":99},
          {"d":"2015-01-01","A04":20,"A07":77,"A10":101},
          {"d":"2015-02-01","A04":17,"A07":66,"A10":96},
          {"d":"2015-03-01","A04":16,"A07":56,"A10":84},
          {"d":"2015-04-01","A04":15,"A07":40,"A10":88},
          {"d":"2015-05-01","A04":15,"A07":35,"A10":70},
          {"d":"2015-06-01","A04":14,"A07":38,"A10":86},
          {"d":"2015-07-01","A04":19,"A07":42,"A10":94},
          {"d":"2015-08-01","A04":29,"A07":38,"A10":100},
          {"d":"2015-09-01","A04":29,"A07":40,"A10":95},
          {"d":"2015-10-01","A04":28,"A07":44,"A10":105},
          {"d":"2015-11-01","A04":30,"A07":43,"A10":112},
          {"d":"2015-12-01","A04":28,"A07":50,"A10":114},
          {"d":"2016-01-01","A04":44,"A07":57,"A10":123},
          {"d":"2016-02-01","A04":54,"A07":68,"A10":144},
          {"d":"2016-03-01","A04":8,"A07":78,"A10":138},
          {"d":"2016-04-01","A04":14,"A07":84,"A10":128},
          {"d":"2016-05-01","A04":11,"A07":79,"A10":140},
          {"d":"2016-06-01","A04":21,"A07":78,"A10":155},
          {"d":"2016-07-01","A04":24,"A07":86,"A10":144},
          {"d":"2016-08-01","A04":27,"A07":76,"A10":0},
          {"d":"2016-09-01","A04":26,"A07":71,"A10":0},
          {"d":"2016-10-01","A04":29,"A07":74,"A10":0},
          {"d":"2016-11-01","A04":25,"A07":72,"A10":0},
          {"d":"2016-12-01","A04":28,"A07":75,"A10":0},
          {"d":"2017-01-01","A04":24,"A07":74,"A10":0},
          {"d":"2017-02-01","A04":27,"A07":73,"A10":0},
          {"d":"2017-03-01","A04":29,"A07":68,"A10":0},
          {"d":"2017-04-01","A04":27,"A07":72,"A10":0},
          {"d":"2017-05-01","A04":32,"A07":67,"A10":0},
          {"d":"2017-06-01","A04":35,"A07":66,"A10":0},
          {"d":"2017-07-01","A04":37,"A07":68,"A10":0},
          {"d":"2017-08-01","A04":35,"A07":62,"A10":0},
          {"d":"2017-09-01","A04":36,"A07":66,"A10":0},
          {"d":"2017-10-01","A04":34,"A07":60,"A10":0},
          {"d":"2017-11-01","A04":38,"A07":63,"A10":0},
          {"d":"2017-12-01","A04":36,"A07":58,"A10":0},
          {"d":"2018-01-01","A04":39,"A07":61,"A10":0},
          {"d":"2018-02-01","A04":35,"A07":66,"A10":0},
          {"d":"2018-03-01","A04":40,"A07":82,"A10":0},
          {"d":"2018-04-01","A04":33,"A07":70,"A10":0},
          {"d":"2018-05-01","A04":27,"A07":62,"A10":0},
          {"d":"2018-06-01","A04":22,"A07":66,"A10":0},
          {"d":"2018-07-01","A04":18,"A07":69,"A10":0},
          {"d":"2018-08-01","A04":15,"A07":70,"A10":0},
          {"d":"2018-09-01","A04":25,"A07":75,"A10":0},
          {"d":"2018-10-01","A04":16,"A07":80,"A10":0},
          {"d":"2018-11-01","A04":20,"A07":91,"A10":0},
          {"d":"2018-12-01","A04":34,"A07":96,"A10":0},
          {"d":"2019-01-01","A04":41,"A07":102,"A10":0},
          {"d":"2019-02-01","A04":44,"A07":108,"A10":0},
          {"d":"2019-03-01","A04":46,"A07":92,"A10":0},
          {"d":"2019-04-01","A04":41,"A07":84,"A10":0},
          {"d":"2019-05-01","A04":36,"A07":83,"A10":0},
          {"d":"2019-06-01","A04":39,"A07":92,"A10":0},
          {"d":"2019-07-01","A04":37,"A07":84,"A10":0},
          {"d":"2019-08-01","A04":40,"A07":90,"A10":0},
          {"d":"2019-09-01","A04":34,"A10":0},
          {"d":"2019-10-01","A04":30,"A10":0},
          {"d":"2019-11-01","A04":27,"A10":0},
          {"d":"2019-12-01","A04":33,"A10":0},
          {"d":"2020-01-01","A04":30,"A10":0},
          {"d":"2020-02-01","A04":34,"A10":0},
          {"d":"2020-03-01","A04":52,"A10":0},
          {"d":"2020-04-01","A04":85,"A10":0},
          {"d":"2020-05-01","A04":78,"A10":0},
          {"d":"2020-06-01","A04":64,"A10":0},
          {"d":"2020-07-01","A04":58,"A10":0},
          {"d":"2020-08-01","A04":52,"A10":0},
          {"d":"2020-09-01","A04":61,"A10":0},
          {"d":"2020-10-01","A04":60,"A10":0},
          {"d":"2020-11-01","A04":62,"A10":0},
          {"d":"2020-12-01","A04":45,"A10":0},
          {"d":"2021-01-01","A04":41,"A10":0},
          {"d":"2021-02-01","A04":47,"A10":0},
          {"d":"2021-03-01","A04":52,"A10":0},
          {"d":"2021-04-01","A04":45,"A10":0},
          {"d":"2021-05-01","A04":35,"A10":0},
          {"d":"2021-06-01","A04":33,"A10":0},
          {"d":"2021-07-01","A04":37,"A10":0},
          {"d":"2021-08-01","A04":34,"A10":0},
          {"d":"2021-09-01","A04":36,"A10":0},
          {"d":"2021-10-01","A04":32,"A10":0},
          {"d":"2021-11-01","A04":36,"A10":0},
          {"d":"2021-12-01","A04":41,"A10":0},
          {"d":"2022-01-01","A04":38,"A10":0},
          {"d":"2022-02-01","A04":42,"A10":0},
          {"d":"2022-03-01","A04":46,"A10":0},
          {"d":"2022-04-01","A04":47,"A10":0},
          {"d":"2022-05-01","A04":52,"A10":0},
          {"d":"2022-06-01","A04":62,"A10":0},
          {"d":"2022-07-01","A04":60,"A10":0},
          {"d":"2022-08-01","A04":69,"A10":0},
          {"d":"2022-09-01","A10":0},{"d":"2022-10-01","A10":0},{"d":"2022-11-01","A10":0},{"d":"2022-12-01","A10":0},{"d":"2023-01-01","A10":0},
          {"d":"2016-07-16","A10":0},{"d":"2016-08-16","A10":0},{"d":"2016-09-16","A10":0},{"d":"2016-10-16","A10":0},{"d":"2016-11-16","A10":0},{"d":"2016-12-16","A10":0},
          {"d":"2017-01-16","A10":0},{"d":"2017-02-16","A10":0},{"d":"2017-03-16","A10":0},{"d":"2017-04-16","A10":0},{"d":"2017-05-16","A10":0},{"d":"2017-06-16","A10":0},{"d":"2017-07-16","A10":0},{"d":"2017-08-16","A10":0},{"d":"2017-09-16","A10":0},{"d":"2017-10-16","A10":0},{"d":"2017-11-16","A10":0},{"d":"2017-12-16","A10":0},
          {"d":"2018-01-16","A10":0},{"d":"2018-02-16","A10":0},{"d":"2018-03-16","A10":0},{"d":"2018-04-16","A10":0},{"d":"2018-05-16","A10":0},{"d":"2018-06-16","A10":0},{"d":"2018-07-16","A10":0},{"d":"2018-08-16","A10":0},{"d":"2018-09-16","A10":0},{"d":"2018-10-16","A10":0},{"d":"2018-11-16","A10":0},{"d":"2018-12-16","A10":0},
          {"d":"2019-01-16","A10":0},{"d":"2019-02-16","A10":0},{"d":"2019-03-16","A10":0},{"d":"2019-04-16","A10":0},{"d":"2019-05-16","A10":0},{"d":"2019-06-16","A10":0},{"d":"2019-07-16","A10":0},{"d":"2019-08-16","A10":0},{"d":"2019-09-16","A10":0},{"d":"2019-10-16","A10":0},{"d":"2019-11-16","A10":0},{"d":"2019-12-16","A10":0},
          {"d":"2020-01-16","A10":0},{"d":"2020-02-16","A10":0},{"d":"2020-03-16","A10":0},{"d":"2020-04-16","A10":0},{"d":"2020-05-16","A10":0},{"d":"2020-06-16","A10":0},{"d":"2020-07-16","A10":0},{"d":"2020-08-16","A10":0},{"d":"2020-09-16","A10":0},{"d":"2020-10-16","A10":0},{"d":"2020-11-16","A10":0},{"d":"2020-12-16","A10":0},
          {"d":"2021-01-16","A10":0},{"d":"2021-02-16","A10":0},{"d":"2021-03-16","A10":0},{"d":"2021-04-16","A10":0},{"d":"2021-05-16","A10":0},{"d":"2021-06-16","A10":0},{"d":"2021-07-16","A10":0},{"d":"2021-08-16","A10":0},{"d":"2021-09-16","A10":0},{"d":"2021-10-16","A10":0},{"d":"2021-11-16","A10":0},{"d":"2021-12-16","A10":0},
          {"d":"2022-01-16","A10":0},{"d":"2022-02-16","A10":0},{"d":"2022-03-16","A10":0},{"d":"2022-04-16","A10":0},{"d":"2022-05-16","A10":0},{"d":"2022-06-16","A10":0},{"d":"2022-07-16","A10":0},{"d":"2022-08-16","A10":0},{"d":"2022-09-16","A10":0},{"d":"2022-10-16","A10":0},{"d":"2022-11-16","A10":0},{"d":"2022-12-16","A10":0}
        ]
      },
      "transform": [{"fold": ["A04", "A07", "A10"], "as": ["s", "v"]}],
      "mark": {"type": "point", "shape": "M-1,0H1M0,-1V1", "filled": false, "size": 72, "strokeWidth": 1.5, "opacity": 1, "clip": false},
      "encoding": {
        "x": {
          "field": "d",
          "type": "temporal",
          "scale": {"type": "utc", "domain": [{"year": 1997, "month": 1, "date": 1, "utc": true}, {"year": 2023, "month": 1, "date": 1, "utc": true}]},
          "axis": {
            "title": null,
            "values": [
              {"year": 1997, "month": 1, "date": 1, "utc": true},
              {"year": 1999, "month": 1, "date": 1, "utc": true},
              {"year": 2001, "month": 1, "date": 1, "utc": true},
              {"year": 2003, "month": 1, "date": 1, "utc": true},
              {"year": 2005, "month": 1, "date": 1, "utc": true},
              {"year": 2007, "month": 1, "date": 1, "utc": true},
              {"year": 2009, "month": 1, "date": 1, "utc": true},
              {"year": 2011, "month": 1, "date": 1, "utc": true},
              {"year": 2013, "month": 1, "date": 1, "utc": true},
              {"year": 2015, "month": 1, "date": 1, "utc": true},
              {"year": 2017, "month": 1, "date": 1, "utc": true},
              {"year": 2019, "month": 1, "date": 1, "utc": true},
              {"year": 2021, "month": 1, "date": 1, "utc": true}
            ],
            "format": "%d/%m/%Y",
            "grid": true,
            "gridColor": "#d9d9d9",
            "gridWidth": 1,
            "ticks": false,
            "domainColor": "#000000",
            "domainWidth": 3,
            "labelFont": "DejaVu Sans",
            "labelFontWeight": "bold",
            "labelFontSize": 15,
            "labelColor": "#595959",
            "labelPadding": 12,
            "labelFlush": false,
            "labelOverlap": false
          }
        },
        "y": {
          "field": "v",
          "type": "quantitative",
          "scale": {"domain": [-50, 200], "nice": false},
          "axis": {
            "title": null,
            "values": [-50, 0, 50, 100, 150, 200],
            "labelExpr": "datum.value + '%'",
            "grid": true,
            "gridColor": "#d9d9d9",
            "domain": false,
            "ticks": false,
            "labelFont": "DejaVu Sans",
            "labelFontSize": 12,
            "labelColor": "#595959",
            "labelPadding": 17,
            "minExtent": 75
          }
        },
        "color": {
          "field": "s",
          "type": "nominal",
          "scale": {"domain": ["A04", "A07", "A10"], "range": ["#ffc000", "#253f73", "#ff0000"]},
          "legend": {
            "orient": "none",
            "legendX": 1536,
            "legendY": 175,
            "title": null,
            "padding": 0,
            "labelExpr": "'Rendement_' + datum.label",
            "labelFont": "DejaVu Sans",
            "labelFontWeight": "bold",
            "labelFontSize": 21,
            "labelColor": "#595959",
            "labelLimit": 400,
            "labelOffset": 12,
            "symbolType": "M-1,0H1M0,-1V1",
            "symbolSize": 64,
            "symbolStrokeWidth": 1.3,
            "symbolFillColor": "transparent",
            "rowPadding": 31
          }
        },
        "order": {"field": "s", "type": "ordinal"}
      }
    }
  ]
}
